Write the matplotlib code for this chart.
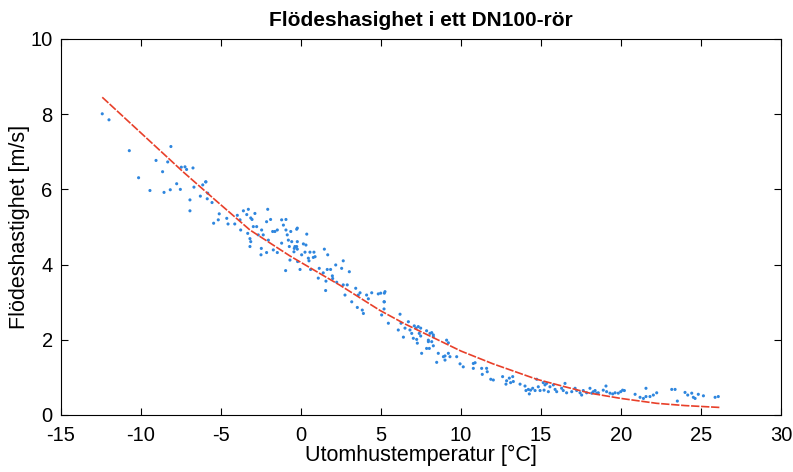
import numpy as np
import matplotlib
matplotlib.use("Agg")
import matplotlib.pyplot as plt

plt.rcParams["font.family"] = ["Liberation Sans", "DejaVu Sans"]
plt.rcParams["axes.unicode_minus"] = False

# ------------------------------------------------------------------ #
#  Measured points (outdoor temperature [°C], flow velocity [m/s])
# ------------------------------------------------------------------ #
temp = [
    -12.42, -12.0, -10.73, -8.13, -9.06, -8.33, -8.65, -10.15, -9.44, -8.56,
    -8.17, -7.54, -7.77, -7.48, -7.25, -7.15, -6.75, -6.69, -6.94, -6.94,
    -6.29, -6.14, -5.94, -5.83, -5.86, -5.56, -5.46, -5.96,
    -5.11, -5.17, -4.64, -4.56, -4.14, -3.98, -3.81, -3.77, -3.6, -3.29,
    -3.39, -3.14, -3.06, -2.88, -3.33, -3.19, -3.14, -3.19, -2.98, -2.77,
    -2.67, -2.46, -2.36, -2.08, -2.15, -1.9, -2.04, -1.77, -1.63, -1.48,
    -1.73, -2.48, -2.5, -2.15, -1.48, -1.21, -0.94, -1.1, -0.94, -1.21,
    -0.86, -0.79, -0.64, -0.58, -0.73, -0.42, -0.27, -0.23, -0.69, -0.96,
    -0.21,
    -0.27, 0.36, -0.23, -0.38, -0.44, -0.23, 0.15, 0.31, 0.25, 0.56,
    0.81, 0.46, 0.5, 0.77, 0.88, 0.04, -0.06, 0.6, 1.46, 1.67,
    1.14, 1.08, 1.39, 1.64, 1.85, 1.96, 1.98, 2.17, 1.56, 1.54,
    2.23, 2.54, 2.64, 2.64, 2.89, 3.02, 2.75, 3.17, 3.42, 3.58,
    3.69, 3.52, 3.83, 3.9, 4.1, 4.21, 4.42, 4.83, 5.25, 5.21,
    5.04,
    4.98, 5.21, 5.19, 5.19, 5.46, 6.19, 6.25, 6.08, 6.4, 6.5,
    6.71, 6.81, 6.92, 7.08, 7.19, 7.02, 7.23, 7.27, 7.33, 7.48,
    7.39, 7.48, 7.85, 7.96, 8.06, 8.17, 8.27, 7.96, 8.17, 8.27,
    7.85, 8.02, 8.27, 7.54, 8.58, 8.48, 8.9, 9.0, 9.1, 9.21,
    9.21, 9.31, 9.0, 9.73, 9.94, 10.14, 10.77, 10.77,
    10.88, 11.29, 11.6, 11.64, 11.33, 11.86, 12.02, 12.6, 12.85, 13.02,
    13.1, 13.23, 13.27, 12.81, 13.69, 14.0, 14.06, 14.21, 14.35, 14.48,
    14.27, 14.63, 14.73, 14.83, 14.94, 15.14, 15.25, 15.35, 15.19, 15.56,
    15.46, 15.77, 15.88, 15.98, 16.29, 16.39, 16.5, 16.6, 16.92, 17.13,
    17.23, 17.44, 17.54, 17.64, 17.85, 18.06, 18.17, 18.38, 18.48,
    18.27, 18.58, 18.89, 19.06, 19.1, 19.31, 19.48, 19.63, 19.83, 19.98,
    20.1, 20.21, 20.88, 21.19, 21.4, 21.56, 21.56, 21.81, 22.02, 22.23,
    23.17, 23.38, 23.52, 24.0, 24.17, 24.42, 24.52, 24.63, 24.83, 25.15,
    25.88, 26.08,
]
velocity = [
    8.01, 7.85, 7.03, 7.14, 6.77, 6.73, 6.47, 6.31, 5.97, 5.92,
    5.99, 6.0, 6.15, 6.59, 6.6, 6.53, 6.57, 6.06, 5.72, 5.43,
    5.82, 6.12, 6.2, 5.9, 5.75, 5.65, 5.1, 6.2,
    5.35, 5.19, 5.23, 5.08, 5.08, 5.31, 5.19, 4.92, 5.43, 5.47,
    5.33, 5.24, 5.2, 5.36, 4.83, 4.69, 4.61, 4.48, 5.01, 5.01,
    4.79, 4.92, 4.79, 5.47, 5.14, 5.2, 4.65, 4.88, 4.88, 4.92,
    4.39, 4.43, 4.26, 4.32, 4.32, 5.19, 5.2, 5.05, 4.92, 4.57,
    4.79, 4.65, 4.88, 4.61, 4.48, 4.43, 4.48, 4.97, 4.12, 3.84,
    4.08,
    4.94, 4.81, 4.61, 4.48, 4.34, 4.41, 4.55, 4.52, 4.33, 4.33,
    4.33, 4.17, 4.1, 4.19, 4.21, 4.26, 3.87, 3.87, 4.41, 4.26,
    3.9, 3.64, 3.78, 3.87, 3.87, 3.7, 3.63, 3.99, 3.56, 3.31,
    3.53, 3.9, 4.1, 3.46, 3.46, 3.81, 3.19, 3.01, 3.37, 3.19,
    3.25, 2.86, 2.79, 2.7, 3.19, 3.09, 3.25, 3.22, 3.28, 3.01,
    2.66,
    3.24, 3.24, 3.01, 2.82, 2.44, 2.68, 2.44, 2.26, 2.07, 2.31,
    2.48, 2.26, 2.17, 2.37, 2.31, 2.04, 2.01, 1.91, 2.35, 2.31,
    2.17, 2.1, 2.24, 1.99, 2.17, 2.19, 2.13, 1.95, 1.95, 2.08,
    1.77, 1.77, 1.84, 1.64, 1.64, 1.4, 1.55, 1.57, 1.99, 1.92,
    1.64, 1.55, 1.46, 1.55, 1.36, 1.28, 1.37, 1.24,
    1.39, 1.24, 1.24, 1.15, 1.08, 0.95, 0.93, 1.02, 0.91, 0.98,
    0.86, 1.02, 0.89, 0.82, 0.82, 0.77, 0.65, 0.68, 0.66, 0.71,
    0.56, 0.65, 0.95, 0.75, 0.65, 0.86, 0.8, 0.84, 0.66, 0.75,
    0.62, 0.8, 0.68, 0.62, 0.71, 0.65, 0.84, 0.59, 0.62, 0.71,
    0.65, 0.59, 0.53, 0.65, 0.59, 0.71, 0.58, 0.65, 0.58,
    0.62, 0.59, 0.66, 0.77, 0.62, 0.58, 0.56, 0.59, 0.58, 0.62,
    0.66, 0.65, 0.55, 0.47, 0.44, 0.71, 0.49, 0.49, 0.53, 0.59,
    0.68, 0.68, 0.37, 0.6, 0.53, 0.58, 0.47, 0.44, 0.55, 0.51,
    0.47, 0.49,
]

# fitted trend curve
fit_temp = [-12.42, -10.0, -7.35, -5.42, -3.19, -0.69, 1.39, 2.44, 4.94,
            6.5, 8.06, 10.0, 12.0, 14.73, 16.5, 18.06, 20.0, 22.23, 24.0, 26.19]
fit_vel = [8.45, 7.50, 6.46, 5.74, 4.92, 4.23, 3.71, 3.45, 2.78,
           2.42, 2.10, 1.70, 1.36, 0.95, 0.75, 0.58, 0.44, 0.31, 0.25, 0.20]

fig = plt.figure(figsize=(7.93, 4.72), dpi=100)
ax = fig.add_axes([0.0769, 0.1208, 0.908, 0.7966])

ax.scatter(temp, velocity, s=5, color="#2e86de", edgecolors="none", zorder=3)
ax.plot(fit_temp, fit_vel, color="#e8402a", linewidth=1.2,
        linestyle=(0, (5, 1)), zorder=4)

ax.set_xlim(-15, 30)
ax.set_ylim(0, 10)
ax.set_xticks(np.arange(-15, 31, 5))
ax.set_yticks(np.arange(0, 11, 2))
ax.tick_params(direction="in", top=True, right=True, length=5,
               width=0.8, labelsize=14.5)
ax.tick_params(axis="x", pad=8)
ax.tick_params(axis="y", pad=6)
for sp in ax.spines.values():
    sp.set_linewidth(0.8)

ax.set_title("Flödeshasighet i ett DN100-rör", fontsize=15,
             fontweight="bold", pad=9)
ax.set_xlabel("Utomhustemperatur [°C]", fontsize=15.5, labelpad=0)
ax.set_ylabel("Flödeshastighet [m/s]", fontsize=15.5, labelpad=0)

fig.savefig("out.png", dpi=100)
